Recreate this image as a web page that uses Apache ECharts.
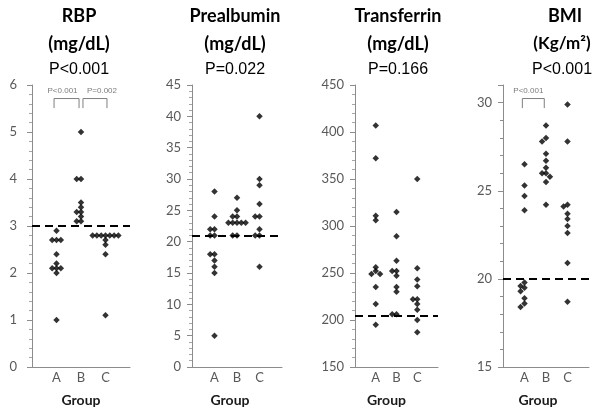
<!DOCTYPE html>
<html>
<head>
<meta charset="utf-8">
<script src="https://cdn.jsdelivr.net/npm/echarts@6/dist/echarts.min.js"></script>
<style>
  html, body { margin: 0; padding: 0; background: #fff; }
  #chart { width: 592px; height: 412px; }
</style>
</head>
<body>
<div id="chart"></div>
<script>
// categories on every x axis
const groups = ['A', 'B', 'C']

// values, top to bottom in each group
const rbpA = [2.9, 2.7, 2.7, 2.7, 2.4, 2.2, 2.1, 2.1, 2.1, 2.0, 1.0]
const rbpB = [5.0, 4.0, 4.0, 3.5, 3.4, 3.3, 3.3, 3.2, 3.1, 3.1]
const rbpC = [2.8, 2.8, 2.8, 2.8, 2.8, 2.8, 2.8, 2.7, 2.6, 2.4, 1.1]

const preA = [28, 24, 22, 22, 21, 21, 18, 18, 17, 16, 15, 5]
const preB = [27, 25, 24, 24, 23, 23, 23, 23, 23, 21, 21]
const preC = [40, 30, 29, 26, 24, 24, 22, 21, 21, 16]

const trfA = [407, 372, 311, 306, 256, 252, 249, 249, 235, 217, 195]
const trfB = [315, 289, 263, 252, 252, 247, 235, 230, 206, 206]
const trfC = [350, 255, 243, 236, 222, 222, 217, 211, 200, 187]

const bmiA = [26.5, 25.3, 24.7, 23.9, 19.8, 19.6, 19.5, 19.3, 18.9, 18.6, 18.4]
const bmiB = [28.7, 28.0, 27.8, 27.1, 26.7, 26.3, 26.0, 26.0, 25.8, 25.5, 24.2]
const bmiC = [29.9, 27.8, 24.2, 24.1, 23.7, 23.4, 23.0, 22.6, 20.9, 18.7]

const panelData = [[rbpA, rbpB, rbpC], [preA, preB, preC], [trfA, trfB, trfC], [bmiA, bmiB, bmiC]]

// titles, reference (dashed) lines, pairwise p values
const titleNames = ['RBP', 'Prealbumin', 'Transferrin', 'BMI']
const titleUnits = ['(mg/dL)', '(mg/dL)', '(mg/dL)', '(Kg/m²)']
const titlePs = ['P<0.001', 'P=0.022', 'P=0.166', 'P<0.001']
const refLines = [3, 21, 205, 20]
const pairs = [[[1, 2, 'P<0.001'], [2, 3, 'P=0.002']], [], [], [[1, 2, 'P<0.001']]]

// y axis ranges / tick steps
const yMin = [0, 0, 150, 15]
const yMax = [6, 45, 450, 31]
const yStep = [1, 5, 50, 5]

// layout (pixels)
const panels = [
  { left: 32, width: 98, titleX: 79, unitX: 79, unitSize: 18, labelMargin: 15, nameShift: 0, pairShift: [-4, 7] },
  { left: 192, width: 90, titleX: 235, unitX: 235, unitSize: 18, labelMargin: 11, nameShift: 7, pairShift: [] },
  { left: 355, width: 83, titleX: 398, unitX: 398, unitSize: 18, labelMargin: 11, nameShift: 10, pairShift: [] },
  { left: 503, width: 94, titleX: 565, unitX: 562, unitSize: 17, labelMargin: 11, nameShift: 8, pairShift: [-5] },
]
const TOP = 85, HEIGHT = 284

// dot plot: points that would overlap get pushed sideways
function swarm(values, g, pxPerY, pxPerX) {
  const slots = [0, -1, 1, -2, 2, -3, 3, -4, 4]
  const placed = []
  return values.map(v => {
    const s = slots.find(k => !placed.some(p => p.s === k && Math.abs(p.v - v) * pxPerY < 3.7))
    placed.push({ s: s, v: v })
    return [g + s * 4.3 / pxPerX, v]
  })
}

const grid = [], xAxis = [], yAxis = [], series = [], graphic = []
const axisGray = '#8c8c8c', labelGray = '#595959'

panels.forEach((p, i) => {
  grid.push({ left: p.left, top: TOP, width: p.width, height: HEIGHT })
  xAxis.push({
    gridIndex: i, type: 'value', min: 0, max: 4, interval: 1,
    axisLine: { lineStyle: { color: axisGray } },
    axisTick: { show: false },
    splitLine: { show: false },
    axisLabel: {
      margin: 4, fontFamily: 'Lato', fontSize: 13, color: labelGray,
      formatter: v => groups[v - 1] || ''
    },
    name: 'Group', nameLocation: 'middle', nameGap: 26,
    nameTextStyle: {
      fontFamily: 'Lato', fontWeight: 'bold', fontSize: 14, color: '#1a1a1a',
      padding: [0, p.nameShift * 2, 0, 0]
    }
  })
  const bmi = i === 3
  yAxis.push({
    gridIndex: i, type: 'value', position: 'left', min: yMin[i], max: yMax[i],
    interval: bmi ? 1 : yStep[i],
    axisLine: { show: true, lineStyle: { color: axisGray } },
    axisTick: { show: true, length: bmi ? 3 : 5, lineStyle: { color: axisGray } },
    minorTick: { show: !bmi, splitNumber: 5, length: 3, lineStyle: { color: '#a6a6a6' } },
    splitLine: { show: false },
    axisLabel: {
      margin: p.labelMargin, fontFamily: 'Lato', fontSize: 13, color: labelGray,
      formatter: v => (v - yMin[i]) % yStep[i] === 0 ? String(v) : ''
    }
  })

  const pxPerY = HEIGHT / (yMax[i] - yMin[i])
  const pxPerX = p.width / 4
  let pts = []
  panelData[i].forEach((vals, g) => { pts = pts.concat(swarm(vals, g + 1, pxPerY, pxPerX)) })
  series.push({
    type: 'scatter', xAxisIndex: i, yAxisIndex: i,
    symbol: 'diamond', symbolSize: 6.5,
    itemStyle: { color: '#000' },
    data: pts,
    markLine: {
      silent: true, symbol: ['none', 'none'],
      label: { show: false },
      lineStyle: { color: '#000', type: [8, 5], width: 2.2 },
      data: [{ yAxis: refLines[i] }]
    }
  })

  const range = yMax[i] - yMin[i]
  const hi = yMax[i] - 0.048 * range, lo = yMax[i] - 0.082 * range
  pairs[i].forEach(([a, b, txt], k) => {
    const l = a === 1 ? a - 0.1 : a + 0.08
    const r = b === 3 ? b + 0.06 : b - 0.08
    series.push({
      type: 'line', xAxisIndex: i, yAxisIndex: i, symbol: 'none', silent: true,
      lineStyle: { color: '#7f7f7f', width: 1 },
      data: [[l, lo], [l, hi], [r, hi], [r, lo]]
    })
    series.push({
      type: 'scatter', xAxisIndex: i, yAxisIndex: i, symbolSize: 0, silent: true,
      label: {
        show: true, position: 'top', distance: 4, offset: [p.pairShift[k] || 0, 0],
        formatter: txt, fontFamily: 'Liberation Sans', fontSize: 8, color: '#595959'
      },
      data: [[(l + r) / 2, hi]]
    })
  })

  graphic.push(
    { type: 'text', x: p.titleX, y: 16, style: { text: titleNames[i], align: 'center', verticalAlign: 'middle', font: 'bold 18px Lato', fill: '#000' } },
    { type: 'text', x: p.unitX, y: 44, style: { text: titleUnits[i], align: 'center', verticalAlign: 'middle', font: 'bold ' + p.unitSize + 'px Lato', fill: '#000' } },
    { type: 'text', x: p.unitX, y: 70, style: { text: titlePs[i], align: 'center', verticalAlign: 'middle', font: '16px "Liberation Sans"', fill: '#000' } }
  )
})

// BMI: longer major ticks at the labelled values
yAxis.push({
  gridIndex: 3, type: 'value', position: 'left', offset: 0, min: yMin[3], max: yMax[3], interval: yStep[3],
  axisLine: { show: false }, axisLabel: { show: false }, splitLine: { show: false },
  axisTick: { show: true, length: 5, lineStyle: { color: axisGray } }
})

const chart = echarts.init(document.getElementById('chart'))
chart.setOption({ animation: false, grid, xAxis, yAxis, series, graphic })
</script>
</body>
</html>
